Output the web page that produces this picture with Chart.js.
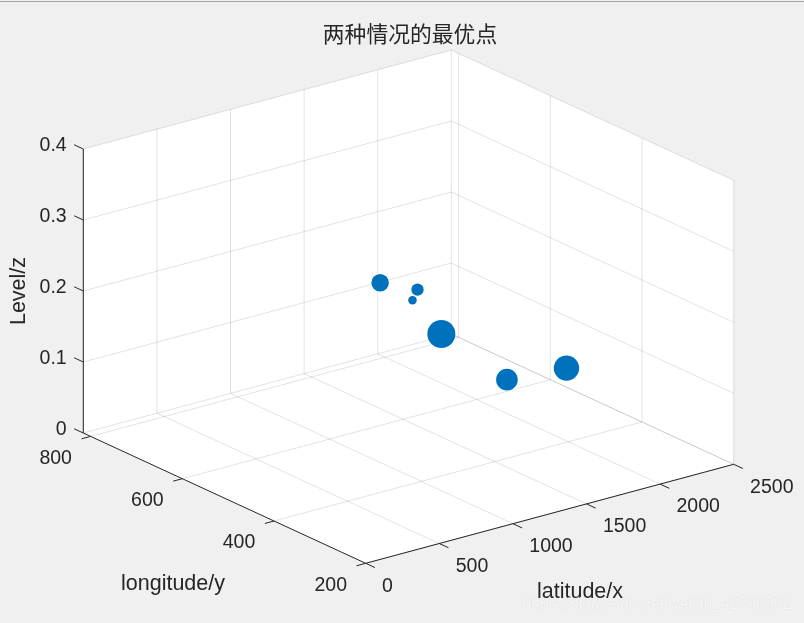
<!DOCTYPE html>
<html>
<head>
<meta charset="utf-8">
<title>两种情况的最优点</title>
<script src="https://cdn.jsdelivr.net/npm/chart.js@4"></script>
<style>
  html, body { margin: 0; padding: 0; background: #f0f0f0; overflow: hidden; }
  #topLine { position: absolute; left: 0; top: 1px; width: 804px; height: 1px; background: #a6a6a6; }
  canvas { display: block; }
</style>
</head>
<body>
<canvas id="optimumChart" width="804" height="623"></canvas>
<div id="topLine"></div>
<script>
// Data
const pointX = [1350, 1579, 1657, 1797, 1984, 2479];
const pointY = [602, 594, 630, 612, 529, 558];
const pointZ = [0.2, 0.18, 0.15, 0.1, 0.05, 0.03];
const pointSize = [77, 38, 18, 196, 117, 161];

const xTicks = [0, 500, 1000, 1500, 2000, 2500];
const yTicks = [200, 400, 600, 800];
const zTicks = [0, 0.1, 0.2, 0.3, 0.4];
const zTickLabels = ['0', '0.1', '0.2', '0.3', '0.4'];

const xLimits = [0, 2500];
const yLimits = [200, 816];
const zLimits = [0, 0.4];

const titleText = '两种情况的最优点';
const xTitle = 'latitude/x';
const yTitle = 'longitude/y';
const zTitle = 'Level/z';
const watermark = 'https://blog.csdn.net/weixin_42766592';

const gridColor = 'rgba(38, 38, 38, 0.13)';
const axisColor = '#262626';
const pointColor = '#0072BD';

// Fixed 3D view, gives page coordinates for a data point
function project(x, y, z) {
  const a = x / xLimits[1];
  const b = (y - yLimits[0]) / (yLimits[1] - yLimits[0]);
  const c = z / zLimits[1];
  return {
    x: 365.7 + 368 * a - 282.4 * b,
    y: 563.3 - 99 * a - 130.3 * b - 284 * c
  };
}

function lineDataset(from, to, color, order) {
  return {
    type: 'line',
    data: [project(...from), project(...to)],
    borderColor: color,
    borderWidth: 1,
    pointRadius: 0,
    tension: 0,
    fill: false,
    clip: false,
    order: order
  };
}

const datasets = [];

// Optimal points
datasets.push({
  type: 'bubble',
  data: pointX.map((x, i) => {
    const p = project(x, pointY[i], pointZ[i]);
    return { x: p.x, y: p.y, r: Math.sqrt(pointSize[i]) };
  }),
  backgroundColor: pointColor,
  borderWidth: 0,
  hoverBorderWidth: 0,
  clip: false,
  order: 0
});

// White panes behind the grid
const [x0, x1] = xLimits;
const [y0, y1] = yLimits;
const [z0, z1] = zLimits;
datasets.push({
  type: 'line',
  data: [
    project(x0, y1, z0), project(x0, y1, z1), project(x1, y1, z1),
    project(x1, y0, z1), project(x1, y0, z0), project(x0, y0, z0),
    project(x0, y1, z0)
  ],
  borderWidth: 0,
  pointRadius: 0,
  tension: 0,
  fill: 'shape',
  backgroundColor: '#ffffff',
  clip: false,
  order: 5
});

// Grid on the floor and the two walls
xTicks.forEach(x => {
  if (x > x0) datasets.push(lineDataset([x, y0, z0], [x, y1, z0], gridColor, 3));
  datasets.push(lineDataset([x, y1, z0], [x, y1, z1], gridColor, 3));
});
yTicks.forEach(y => {
  datasets.push(lineDataset([x0, y, z0], [x1, y, z0], gridColor, 3));
  datasets.push(lineDataset([x1, y, z0], [x1, y, z1], gridColor, 3));
});
zTicks.forEach(z => {
  datasets.push(lineDataset([x0, y1, z], [x1, y1, z], gridColor, 3));
  datasets.push(lineDataset([x1, y1, z], [x1, y0, z], gridColor, 3));
});

// Axis lines and tick marks
datasets.push(lineDataset([x0, y1, z0], [x0, y1, z1], axisColor, 1));
datasets.push(lineDataset([x0, y1, z0], [x0, y0, z0], axisColor, 1));
datasets.push(lineDataset([x0, y0, z0], [x1, y0, z0], axisColor, 1));
zTicks.forEach(z => datasets.push(lineDataset([x0, y1, z], [x0, y1 + 20, z], axisColor, 1)));
yTicks.forEach(y => datasets.push(lineDataset([x0, y, z0], [x0 - 62, y, z0], axisColor, 1)));
xTicks.forEach(x => datasets.push(lineDataset([x, y0, z0], [x, y0 - 20, z0], axisColor, 1)));

// Tick labels and axis titles follow the projected axes
const axisText = {
  id: 'axisText',
  afterDraw(chart) {
    const ctx = chart.ctx;
    const sx = chart.scales.x;
    const sy = chart.scales.y;
    const put = (text, px, py, align) => {
      ctx.textAlign = align;
      ctx.fillText(text, sx.getPixelForValue(px), sy.getPixelForValue(py));
    };
    ctx.save();
    ctx.fillStyle = axisColor;
    ctx.textBaseline = 'middle';
    ctx.font = '19.5px "Liberation Sans", Arial, sans-serif';
    zTicks.forEach((z, i) => {
      const p = project(x0, y1, z);
      put(zTickLabels[i], p.x - 16.6, p.y - 3, 'right');
    });
    yTicks.forEach(y => {
      const p = project(x0, y, z0);
      put(String(y), p.x - 18.7, p.y + 22, 'right');
    });
    xTicks.forEach(x => {
      const p = project(x, y0, z0);
      put(String(x), p.x + 16.4, p.y + 23, 'left');
    });

    ctx.font = '21.5px "Liberation Sans", Arial, sans-serif';
    put(yTitle, 173, 584, 'center');
    put(xTitle, 580, 592, 'center');
    ctx.translate(19, 291);
    ctx.rotate(-Math.PI / 2);
    ctx.textAlign = 'center';
    ctx.fillText(zTitle, 0, 0);
    ctx.restore();

    // csdn watermark
    ctx.save();
    ctx.font = '15.8px "Liberation Sans", Arial, sans-serif';
    ctx.textBaseline = 'middle';
    ctx.textAlign = 'left';
    ctx.fillStyle = 'rgba(255, 255, 255, 0.8)';
    ctx.shadowColor = 'rgba(110, 110, 110, 0.35)';
    ctx.shadowBlur = 1;
    ctx.fillText(watermark, 522.5, 605);
    ctx.restore();
  }
};

new Chart(document.getElementById('optimumChart'), {
  type: 'bubble',
  data: { datasets: datasets },
  plugins: [axisText],
  options: {
    responsive: false,
    animation: false,
    layout: { padding: { left: 16 }, autoPadding: false },
    scales: {
      // hidden scales run in page coordinates of the projection
      x: { type: 'linear', display: false, min: 16, max: 804 },
      y: { type: 'linear', display: false, min: 48, max: 623, reverse: true }
    },
    plugins: {
      legend: { display: false },
      tooltip: { enabled: false },
      title: {
        display: true,
        text: titleText,
        color: axisColor,
        font: { family: '"Noto Sans CJK SC", sans-serif', size: 21.8, weight: 'normal', lineHeight: 1 },
        padding: { top: 23, bottom: 3.2 }
      }
    }
  }
});
</script>
</body>
</html>
